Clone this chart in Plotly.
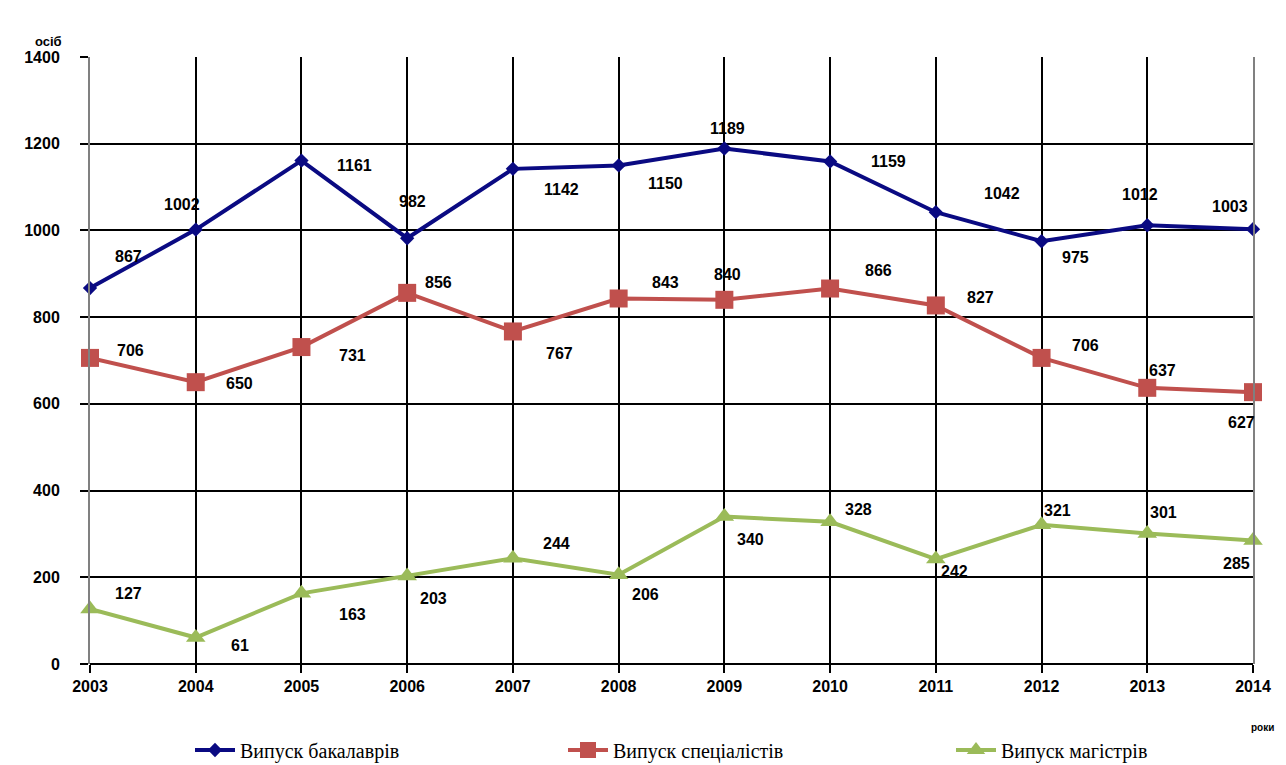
import plotly.graph_objects as go

years = [2003, 2004, 2005, 2006, 2007, 2008, 2009, 2010, 2011, 2012, 2013, 2014]
bachelors = [867, 1002, 1161, 982, 1142, 1150, 1189, 1159, 1042, 975, 1012, 1003]
specialists = [706, 650, 731, 856, 767, 843, 840, 866, 827, 706, 637, 627]
masters = [127, 61, 163, 203, 244, 206, 340, 328, 242, 321, 301, 285]

y_ticks = [0, 200, 400, 600, 800, 1000, 1200, 1400]
series_names = ["Випуск бакалаврів", "Випуск спеціалістів", "Випуск магістрів"]

# label offsets (pixels) for data labels
off_b = [(38, -32), (-14, -25), (53, 5), (5, -37), (49, 21), (47, 18), (3, -20), (58, 0), (66, -19), (34, 16), (-7, -31), (-23, -23)]
off_s = [(40, -7), (44, 1), (51, 8), (31, -10), (47, 22), (47, -16), (3, -25), (48, -18), (45, -8), (44, -12), (15, -17), (-12, 30)]
off_m = [(38, -15), (44, 8), (51, 21), (26, 23), (44, -15), (27, 20), (26, 23), (28, -12), (19, 12), (16, -14), (16, -21), (-17, 23)]

# page has an 8px body margin, so the figure is drawn 8px in from the corner
W, H = 1278, 757
L, T, PW, PH = 82, 49, 1163, 607

fig = go.Figure()
fig.add_trace(go.Scatter(x=years, y=bachelors, name=series_names[0], mode="lines+markers",
                         line=dict(color="#0a0a82", width=4),
                         marker=dict(symbol="diamond", size=11, color="#0a0a82"), cliponaxis=False,
                         legend="legend"))
fig.add_trace(go.Scatter(x=years, y=specialists, name=series_names[1], mode="lines+markers",
                         line=dict(color="#c0504d", width=4),
                         marker=dict(symbol="square", size=18, color="#c0504d"), cliponaxis=False,
                         legend="legend2"))
fig.add_trace(go.Scatter(x=years, y=masters, name=series_names[2], mode="lines+markers",
                         line=dict(color="#9bbb59", width=4),
                         marker=dict(symbol="triangle-up", size=17, color="#9bbb59"), cliponaxis=False,
                         legend="legend3"))

lab_font = dict(family="Liberation Sans", size=16, color="black", weight="bold")
for vals, offs in ((bachelors, off_b), (specialists, off_s), (masters, off_m)):
    for x, v, (dx, dy) in zip(years, vals, offs):
        fig.add_annotation(x=x, y=v, text=str(v), showarrow=False, xshift=dx, yshift=-dy, font=lab_font)

def px(xp):
    return (xp - 8 - L) / PW

def py(yp):
    return (T + PH - (yp - 8)) / PH

fig.add_annotation(xref="paper", yref="paper", x=px(48), y=py(42), xanchor="center", yanchor="middle",
                   text="осіб", showarrow=False,
                   font=dict(family="Liberation Sans", size=13, color="black", weight="bold"))
fig.add_annotation(xref="paper", yref="paper", x=px(1262), y=py(727), xanchor="center", yanchor="middle",
                   text="роки", showarrow=False,
                   font=dict(family="Liberation Sans", size=10, color="black", weight="bold"))

leg_font = dict(family="Liberation Serif", size=20, color="black")
def leg(xpx):
    return dict(orientation="h", x=px(xpx), xanchor="left", y=py(750), yanchor="middle",
                font=leg_font, itemwidth=40, bgcolor="rgba(0,0,0,0)")

fig.update_layout(
    width=W, height=H,
    margin=dict(l=L, r=W - L - PW, t=T, b=H - T - PH, autoexpand=False),
    paper_bgcolor="white", plot_bgcolor="white",
    showlegend=True,
    legend=leg(190), legend2=leg(563), legend3=leg(951),
    xaxis=dict(range=[2003, 2014], tickmode="array", tickvals=years, ticktext=[str(y) for y in years],
               showgrid=True, gridcolor="black", gridwidth=2, automargin=False,
               ticks="outside", ticklen=8, tickcolor="black", tickwidth=2,
               tickfont=dict(family="Liberation Sans", size=16, color="black", weight="bold"),
               showline=False, zeroline=False),
    yaxis=dict(range=[0, 1400], tickmode="array", tickvals=y_ticks,
               showgrid=True, gridcolor="black", gridwidth=2, automargin=False,
               ticks="outside", ticklen=8, tickcolor="black", tickwidth=2,
               tickfont=dict(family="Liberation Sans", size=16, color="black", weight="bold"),
               ticklabelstandoff=17,
               showline=True, linecolor="#808080", linewidth=2, mirror=True,
               zeroline=True, zerolinecolor="black", zerolinewidth=2),
)

fig.write_html("out.html")
